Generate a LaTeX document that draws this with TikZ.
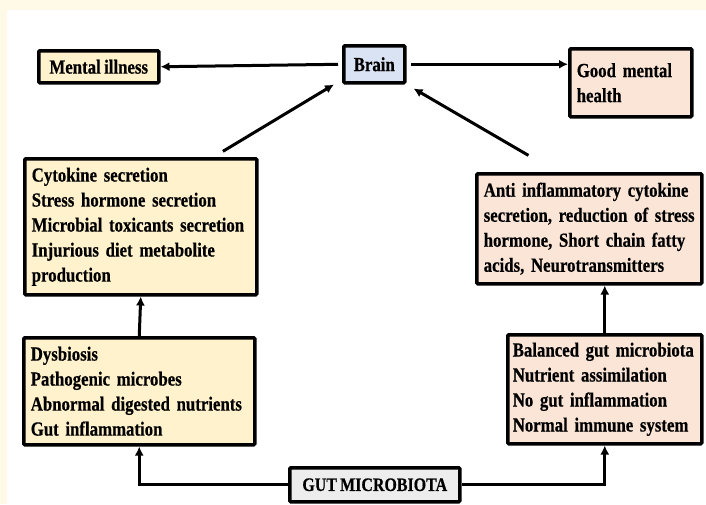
\documentclass[tikz,border=0pt]{standalone}
\usepackage{fontspec}
\setmainfont{Liberation Serif}[FakeStretch=0.84,WordSpace=0.8,BoldFeatures={FakeBold=0.5}]
\usetikzlibrary{arrows.meta}
\definecolor{cream}{HTML}{FFFAE8}
\definecolor{badfill}{HTML}{FFF2CC}
\definecolor{goodfill}{HTML}{FBE5D6}
\definecolor{brainfill}{HTML}{DAE3F3}
\definecolor{gutfill}{HTML}{EDEDED}
\begin{document}
\begin{tikzpicture}[x=1pt,y=-1pt,>={Latex[length=9pt,width=9pt]},
    box/.style={draw,line width=3.5pt,rounded corners=1pt,anchor=north west,
        align=left,inner xsep=7pt,inner ysep=3pt,
        font=\fontsize{20}{25}\selectfont\bfseries},
    link/.style={->,line width=3pt}]
% background
\fill[cream] (0,0) rectangle (706,504);
\fill[white] (7,10) rectangle (706,504);
\useasboundingbox (0,0) rectangle (706,504);

% top row
\node[box,fill=brainfill,align=center,minimum width=61pt,minimum height=37pt] (brain) at (342,44) {Brain};
\node[box,fill=badfill,minimum width=120pt,minimum height=32pt] (ill) at (37,49) {Mental illness};
\node[box,fill=goodfill,text width=108pt,minimum height=68pt] (good) at (568,47) {Good mental\\health};

% middle row
\node[box,fill=badfill,text width=218pt,minimum height=136pt] (lmid) at (23,157)
    {Cytokine secretion\\Stress hormone secretion\\Microbial toxicants secretion\\Injurious diet metabolite\\production};
\node[box,fill=goodfill,text width=211pt,minimum height=110pt] (rmid) at (475,172)
    {Anti inflammatory cytokine\\secretion, reduction of stress\\hormone, Short chain fatty\\acids, Neurotransmitters};

% bottom row
\node[box,fill=badfill,text width=217pt,minimum height=107pt] (lbot) at (22,336)
    {Dysbiosis\\Pathogenic microbes\\Abnormal digested nutrients\\Gut inflammation};
\node[box,fill=goodfill,inner xsep=5pt,text width=184pt,minimum height=109pt] (rbot) at (506,333)
    {Balanced gut microbiota\\Nutrient assimilation\\No gut inflammation\\Normal immune system};
\node[box,fill=gutfill,align=center,minimum width=170pt,minimum height=34pt,
    font=\fontsize{19}{20}\selectfont\bfseries] (gut) at (288,466) {GUT MICROBIOTA};

% connectors
\draw[link,shorten <=4pt] (brain.west) -- (ill.east);
\draw[link,shorten <=4pt] (brain.east) -- (brain.east -| good.west);
\draw[link,shorten <=11pt] ([xshift=-45pt]lmid.north east) -- ([xshift=-8pt]brain.south west);
\draw[link,shorten <=33pt] ([xshift=82pt]rmid.north west) -- ([xshift=7pt,yshift=-4pt]brain.south east);
\draw[link] (lbot.north) -- (lmid.south);
\draw[link] (rbot.north) -- (rbot.north |- rmid.south);
\draw[link] (gut.west) -| (lbot.south);
\draw[link] (gut.east) -| (rbot.south);
\end{tikzpicture}
\end{document}
